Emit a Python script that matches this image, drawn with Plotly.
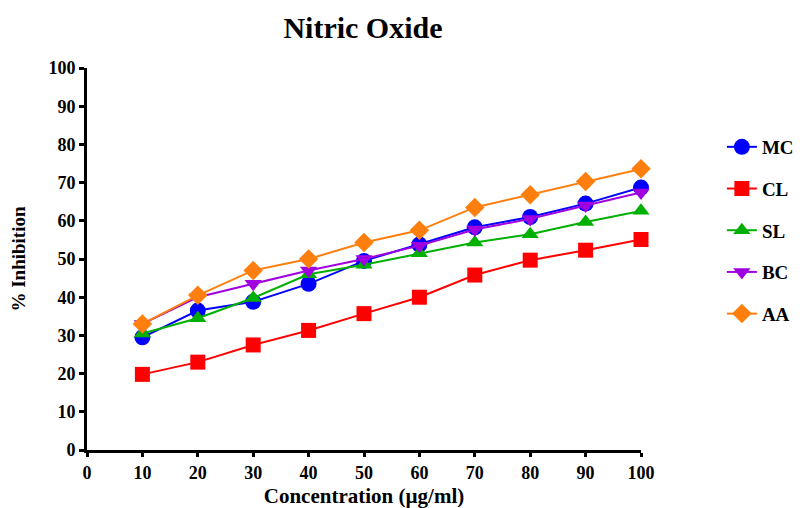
import plotly.graph_objects as go

conc = [10, 20, 30, 40, 50, 60, 70, 80, 90, 100]
mc = [29.5, 36.5, 38.8, 43.5, 49.5, 53.8, 58.3, 61.0, 64.5, 68.7]
cl = [19.8, 23.0, 27.5, 31.3, 35.7, 40.0, 45.8, 49.7, 52.3, 55.1]
sl = [30.5, 34.5, 39.8, 46.0, 48.5, 51.5, 54.3, 56.5, 59.7, 62.6]
bc = [33.0, 40.0, 43.5, 47.0, 50.0, 53.5, 57.7, 60.5, 64.0, 67.4]
aa = [33.0, 40.5, 47.0, 50.0, 54.3, 57.5, 63.5, 66.8, 70.3, 73.6]

series = [
    ("MC", mc, "#0000ff", "circle", 16),
    ("CL", cl, "#ff0000", "square", 15),
    ("SL", sl, "#00b000", "triangle-up", 15),
    ("BC", bc, "#a000e0", "triangle-down", 15),
    ("AA", aa, "#ff7f0e", "diamond", 15),
]

font_family = "Liberation Serif, Times New Roman, serif"

fig = go.Figure()
for name, vals, color, sym, size in series:
    fig.add_trace(go.Scatter(
        x=conc, y=vals, name=name, mode="lines+markers",
        line=dict(color=color, width=2),
        marker=dict(symbol=sym, size=size, color=color),
        cliponaxis=False, legendgroup=name,
    ))

fig.update_layout(
    width=795, height=500,
    margin=dict(l=79, r=162, t=60, b=58, autoexpand=False),
    paper_bgcolor="white", plot_bgcolor="white",
    font=dict(family=font_family, color="black"),
    title=dict(text="<b>Nitric Oxide</b>", x=0.4465, xanchor="center",
               y=0.962, yanchor="middle", font=dict(size=30, family=font_family)),
    legend=dict(x=1.146, y=0.843, xanchor="left", yanchor="top",
                font=dict(size=19, family=font_family, weight="bold"),
                tracegroupgap=14, itemwidth=30, bgcolor="rgba(0,0,0,0)"),
    xaxis=dict(range=[0, 100], tickvals=list(range(0, 101, 10)),
               showgrid=False, zeroline=False, showline=True, linecolor="black",
               linewidth=3, ticks="outside", ticklen=4, tickwidth=2.5, tickcolor="black",
               automargin=False,
               tickfont=dict(size=18, family=font_family, weight="bold"),
               title=dict(text="<b>Concentration (µg/ml)</b>", font=dict(size=21, family=font_family),
                          standoff=10)),
    yaxis=dict(range=[0, 100], tickvals=list(range(0, 101, 10)),
               showgrid=False, zeroline=False, showline=True, linecolor="black",
               linewidth=3, ticks="outside", ticklen=5, tickwidth=2.5, tickcolor="black",
               automargin=False,
               tickfont=dict(size=18, family=font_family, weight="bold"),
               title=dict(text="<b>% Inhibition</b>", font=dict(size=19, family=font_family),
                          standoff=18)),
)

fig.write_html("out.html")
